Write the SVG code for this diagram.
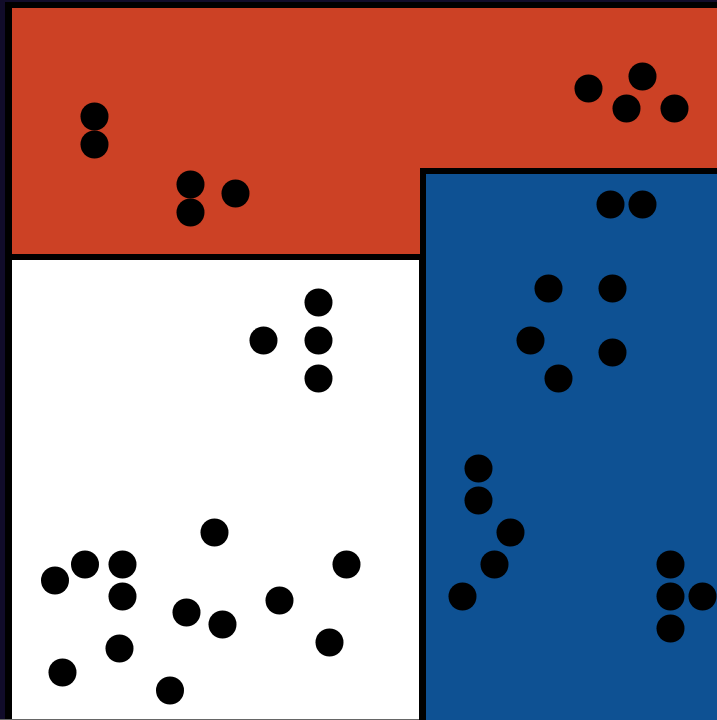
<svg xmlns="http://www.w3.org/2000/svg" width="717" height="720" viewBox="0 0 717 720">
<style>
.dot{fill:#000}
</style>
<rect x="0" y="0" width="717" height="720" fill="#110c2a"/>
<rect x="5" y="2" width="712" height="718" fill="#000"/>
<g id="red">
<path d="M12 8 H717 V168 H420 V254 H12 Z" fill="#cc4125"/>
</g>
<g id="white">
<rect x="12" y="260" width="407" height="459" fill="#fff"/>
</g>
<g id="blue">
<rect x="426" y="174" width="291" height="546" fill="#0e5193"/>
</g>
<rect x="0" y="719" width="419" height="1" fill="#666"/>
<g id="dots-red" class="dot">
<circle cx="94.5" cy="116.5" r="14"/>
<circle cx="94.5" cy="144.5" r="14"/>
<circle cx="190.5" cy="184.5" r="14"/>
<circle cx="190.5" cy="212.5" r="14"/>
<circle cx="235.5" cy="193.5" r="14"/>
<circle cx="588.5" cy="88.5" r="14"/>
<circle cx="642.5" cy="76.5" r="14"/>
<circle cx="626.5" cy="108.5" r="14"/>
<circle cx="674.5" cy="108.5" r="14"/>
</g>
<g id="dots-blue" class="dot">
<circle cx="610.5" cy="204.5" r="14"/>
<circle cx="642.5" cy="204.5" r="14"/>
<circle cx="548.5" cy="288.5" r="14"/>
<circle cx="612.5" cy="288.5" r="14"/>
<circle cx="530.5" cy="340.5" r="14"/>
<circle cx="558.5" cy="378.5" r="14"/>
<circle cx="612.5" cy="352.5" r="14"/>
<circle cx="478.5" cy="468.5" r="14"/>
<circle cx="478.5" cy="500.5" r="14"/>
<circle cx="510.5" cy="532.5" r="14"/>
<circle cx="494.5" cy="564.5" r="14"/>
<circle cx="462.5" cy="596.5" r="14"/>
<circle cx="670.5" cy="564.5" r="14"/>
<circle cx="670.5" cy="596.5" r="14"/>
<circle cx="702.5" cy="596.5" r="14"/>
<circle cx="670.5" cy="628.5" r="14"/>
</g>
<g id="dots-white" class="dot">
<circle cx="318.5" cy="302.5" r="14"/>
<circle cx="263.5" cy="340.5" r="14"/>
<circle cx="318.5" cy="340.5" r="14"/>
<circle cx="318.5" cy="378.5" r="14"/>
<circle cx="214.5" cy="532.5" r="14"/>
<circle cx="85" cy="564.5" r="14"/>
<circle cx="122.5" cy="564.5" r="14"/>
<circle cx="55" cy="580.5" r="14"/>
<circle cx="122.5" cy="596.5" r="14"/>
<circle cx="346.5" cy="564.5" r="14"/>
<circle cx="186.5" cy="612.5" r="14"/>
<circle cx="222.5" cy="624.5" r="14"/>
<circle cx="279.5" cy="600.5" r="14"/>
<circle cx="119.5" cy="648.5" r="14"/>
<circle cx="329.5" cy="642.5" r="14"/>
<circle cx="62.5" cy="672.5" r="14"/>
<circle cx="170" cy="690.5" r="14"/>
</g>
</svg>
